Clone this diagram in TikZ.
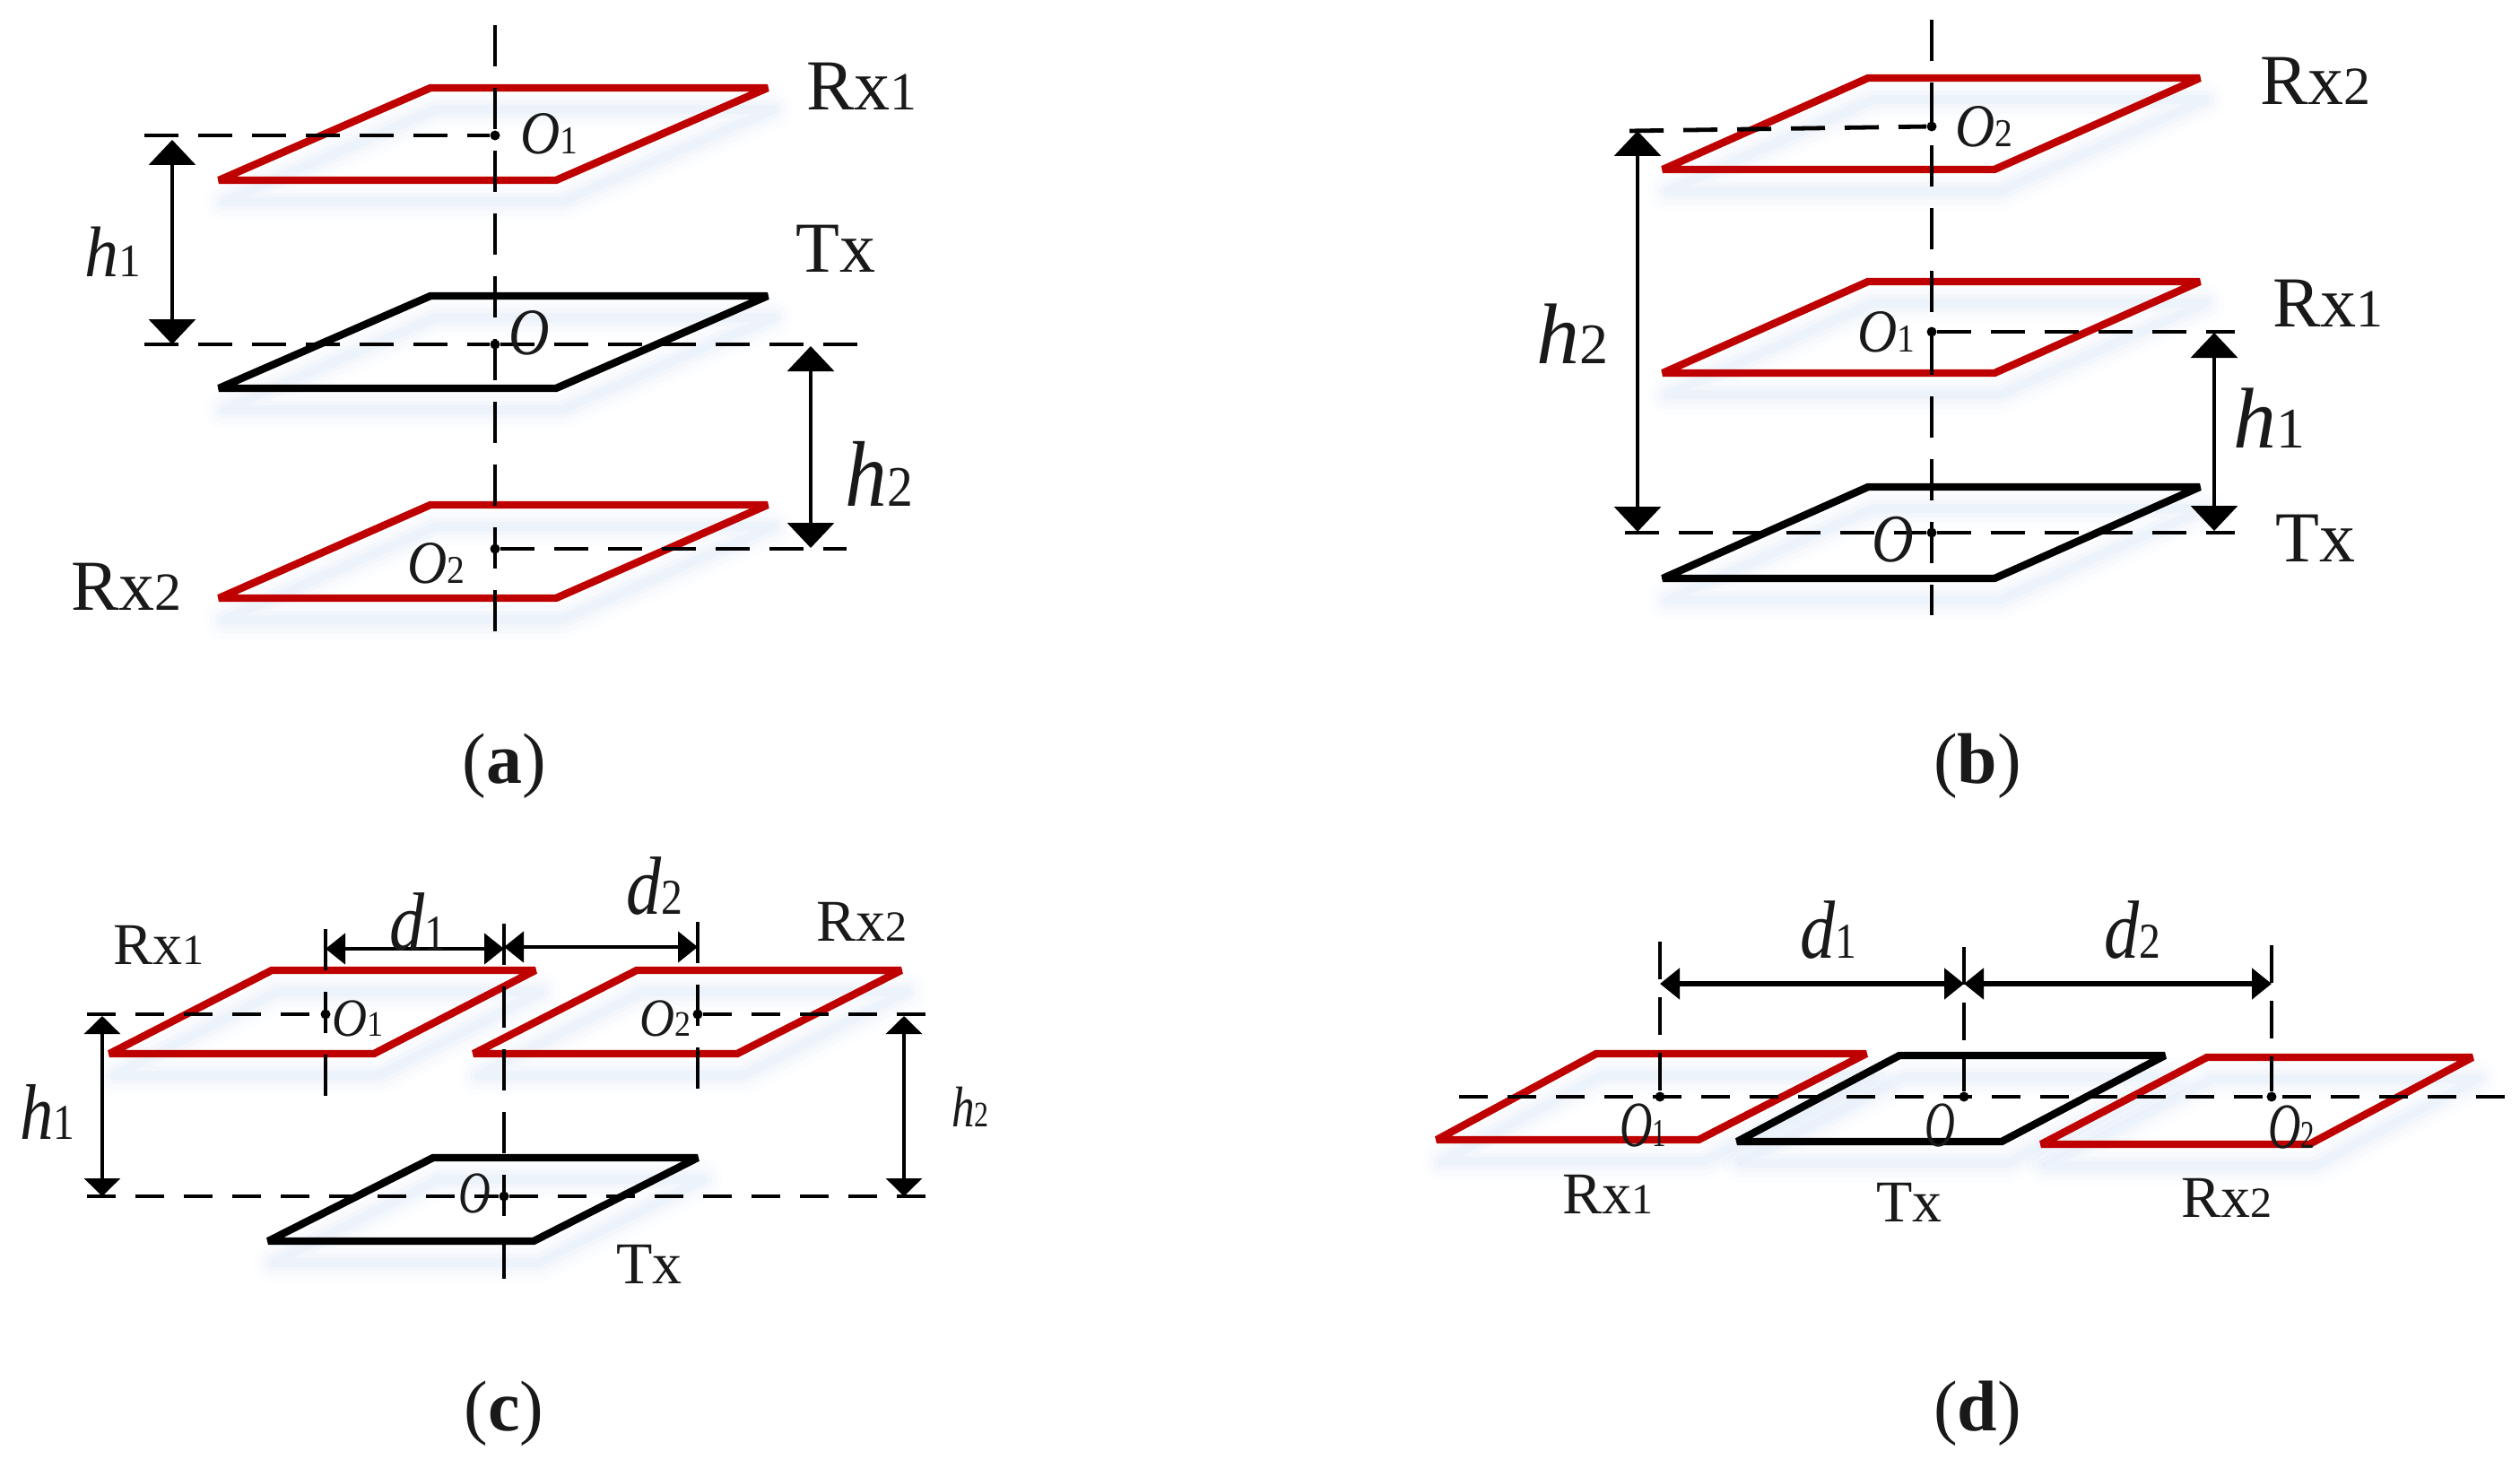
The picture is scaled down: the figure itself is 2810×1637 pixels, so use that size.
\documentclass[tikz,border=0pt]{standalone}
\usepackage{fontspec}
\setmainfont{Liberation Serif}
\usetikzlibrary{arrows.meta}
\definecolor{rxred}{RGB}{190,0,0}
\definecolor{shadowblue}{RGB}{150,185,230}
\newcommand{\rxl}[3]{{\fontsize{#1}{#1}\selectfont Rx\fontsize{#2}{#2}\selectfont #3}}
\newcommand{\ilab}[5]{\scalebox{#3}[1]{\fontsize{#1}{#1}\selectfont\textit{#4}\fontsize{#2}{#2}\selectfont #5}}
\newcommand{\capl}[1]{{\fontsize{40}{40}\selectfont (\textbf{#1})}}
% plate: x of top-left, top-right, bottom-right, bottom-left, y top, y bottom, colour
\newcommand{\plate}[7]{%
  \foreach \w/\op in {44/.03,32/.04,20/.05,10/.06}{%
    \draw[shift={(6,24)},line width=\w*0.5pt,shadowblue,opacity=\op,line join=round]
      (#1,#5) -- (#2,#5) -- (#3,#6) -- (#4,#6) -- cycle;}%
  \draw[line width=4.2pt,#7,line join=miter,miter limit=3] (#1,#5) -- (#2,#5) -- (#3,#6) -- (#4,#6) -- cycle;}
\tikzset{
  txt/.style={inner sep=0pt,outer sep=0pt,anchor=center,text=black!90},
  hdash/.style={line width=2.4pt,dash pattern=on 19pt off 11pt},
  hdashb/.style={line width=2.4pt,dash pattern=on 16pt off 11pt},
  vdash/.style={line width=1.9pt,dash pattern=on 23pt off 12pt},
  vdashb/.style={line width=1.9pt,dash pattern=on 21pt off 10pt},
  dim/.style={line width=1.8pt,{Triangle[length=14pt,width=26pt]}-{Triangle[length=14pt,width=26pt]}},
  dimc/.style={line width=1.6pt,{Triangle[length=10pt,width=20pt]}-{Triangle[length=10pt,width=20pt]}},
  dimh/.style={line width=2.2pt,{Triangle[length=11pt,width=17pt]}-{Triangle[length=11pt,width=17pt]}},
  dotn/.style={circle,fill=black,inner sep=0pt,minimum size=5.5pt},
}
\begin{document}
\begin{tikzpicture}[x=0.5pt,y=-0.5pt]
\useasboundingbox (0,0) rectangle (2810,1637);
% ---------- panel (a)
\begin{scope}[shift={(-4,-2)}]
\plate{484}{860}{624}{248}{100}{203}{rxred}
\plate{484}{860}{624}{248}{332}{435}{black}
\plate{484}{860}{624}{248}{565}{669}{rxred}
\coordinate (aT) at (556,30); \coordinate (aB) at (556,711);
\node[dotn] (aO1) at (556,153) {}; \node[dotn] (aO) at (556,386) {}; \node[dotn] (aO2) at (556,614) {};
\coordinate (aL1) at (165,153); \coordinate (aL) at (165,386); \coordinate (aR) at (970,386); \coordinate (aR2) at (948,614);
\coordinate (ah1t) at (196,158); \coordinate (ah1b) at (196,386);
\coordinate (ah2t) at (908,388); \coordinate (ah2b) at (908,613);
\draw[vdash] (aT) -- (aB);
\draw[hdash] (aL1) -- (aO1);
\draw[hdash] (aL) -- (aO);
\draw[hdash] (aO) -- (aR);
\draw[hdash] (aO2) -- (aR2);
\draw[dim] (ah1t) -- (ah1b);
\draw[dim] (ah2t) -- (ah2b);
\node[txt] (aRx1) at (965,98) {\rxl{40}{30}{1}};
\node[txt] (aTx) at (936,279) {\fontsize{40}{40}\selectfont Tx};
\node[txt] (aRx2) at (145,656) {\rxl{40}{30}{2}};
\node[txt] (ah1) at (130,283) {\ilab{40}{26}{.95}{h}{1}};
\node[txt] (ah2) at (984,530) {\ilab{52}{32}{.9}{h}{2}};
\node[txt] (alO1) at (616,151) {\ilab{34}{22}{.9}{O}{1}};
\node[txt] (alO) at (594,373) {\ilab{37}{20}{.85}{O}{}};
\node[txt] (alO2) at (490,630) {\ilab{34}{22}{.9}{O}{2}};
\end{scope}
\node[txt] (acapa) at (562,854) {\capl{a}};
% ---------- panel (b)
\begin{scope}[shift={(-4,0)}]
\plate{2087}{2457}{2228}{1858}{87}{189}{rxred}
\plate{2087}{2457}{2228}{1858}{314}{416}{rxred}
\plate{2087}{2457}{2228}{1858}{543}{645}{black}
\coordinate (bT) at (2158,22); \coordinate (bB) at (2158,686);
\node[dotn] (bO2) at (2158,141) {}; \node[dotn] (bO1) at (2158,370) {}; \node[dotn] (bO) at (2158,594) {};
\coordinate (bL2) at (1821,146); \coordinate (bR1) at (2496,370); \coordinate (bL) at (1816,594); \coordinate (bR) at (2496,594);
\coordinate (bh2t) at (1830,146); \coordinate (bh2b) at (1830,593);
\coordinate (bh1t) at (2473,371); \coordinate (bh1b) at (2473,592);
\draw[vdash] (bT) -- (bB);
\draw[hdash] (bL2) -- (bO2);
\draw[hdash] (bO1) -- (bR1);
\draw[hdash] (bL) -- (bO);
\draw[hdash] (bO) -- (bR);
\draw[dim] (bh2t) -- (bh2b);
\draw[dim] (bh1t) -- (bh1b);
\node[txt] (bRx2) at (2586,90) {\rxl{40}{30}{2}};
\node[txt] (bRx1) at (2600,338) {\rxl{40}{30}{1}};
\node[txt] (bTx) at (2586,600) {\fontsize{40}{40}\selectfont Tx};
\node[txt] (bh2) at (1757,372) {\ilab{48}{32}{1}{h}{2}};
\node[txt] (bh1) at (2534,466) {\ilab{48}{32}{1}{h}{1}};
\node[txt] (blO2) at (2216,141) {\ilab{34}{22}{.9}{O}{2}};
\node[txt] (blO1) at (2107,370) {\ilab{34}{22}{.9}{O}{1}};
\node[txt] (blO) at (2115,602) {\ilab{38}{20}{.85}{O}{}};
\end{scope}
\node[txt] (bcapb) at (2205,854) {\capl{b}};
% ---------- panel (c)
\begin{scope}[shift={(-3,-4)}]
\plate{306}{600}{420}{125}{1086}{1179}{rxred}
\plate{713}{1008}{825}{531}{1086}{1179}{rxred}
\plate{486}{781}{598}{302}{1295}{1388}{black}
\coordinate (cT) at (565,1034); \coordinate (cB) at (565,1444);
\coordinate (cT1) at (366,1040); \coordinate (cB1) at (366,1244);
\coordinate (cT2) at (781,1032); \coordinate (cB2) at (781,1226);
\node[dotn] (cO1) at (366,1135) {}; \node[dotn] (cO2) at (781,1135) {}; \node[dotn] (cO) at (565,1338) {};
\coordinate (cL1) at (100,1135); \coordinate (cR2) at (1037,1135); \coordinate (cL) at (100,1338); \coordinate (cR) at (1037,1338);
\coordinate (ch1t) at (117,1137); \coordinate (ch1b) at (117,1338);
\coordinate (ch2t) at (1011,1137); \coordinate (ch2b) at (1011,1338);
\coordinate (cd1l) at (366,1062); \coordinate (cd1r) at (565,1062);
\coordinate (cd2l) at (565,1060); \coordinate (cd2r) at (781,1060);
\draw[vdash] (cT) -- (cB);
\draw[vdash] (cT1) -- (cB1);
\draw[vdash] (cT2) -- (cB2);
\draw[hdashb] (cL1) -- (cO1);
\draw[hdashb] (cO2) -- (cR2);
\draw[hdashb] (cL) -- (cO);
\draw[hdashb] (cO) -- (cR);
\draw[dimc] (ch1t) -- (ch1b);
\draw[dimc] (ch2t) -- (ch2b);
\draw[dimh] (cd1l) -- (cd1r);
\draw[dimh] (cd2l) -- (cd2r);
\node[txt] (cRx1) at (180,1058) {\rxl{33}{24}{1}};
\node[txt] (cRx2) at (964,1032) {\rxl{33}{24}{2}};
\node[txt] (cTx) at (727,1414) {\fontsize{33}{33}\selectfont Tx};
\node[txt] (ch1) at (56,1244) {\ilab{44}{28}{.85}{h}{1}};
\node[txt] (ch2) at (1085,1238) {\ilab{32}{20}{.8}{h}{2}};
\node[txt] (cdl1) at (469,1032) {\ilab{46}{28}{.85}{d}{1}};
\node[txt] (cdl2) at (733,992) {\ilab{46}{28}{.85}{d}{2}};
\node[txt] (clO1) at (402,1140) {\ilab{30}{20}{.9}{O}{1}};
\node[txt] (clO2) at (745,1140) {\ilab{30}{20}{.9}{O}{2}};
\node[txt] (clO) at (532,1335) {\ilab{33}{18}{.75}{O}{}};
\end{scope}
\node[txt] (ccapc) at (562,1576) {\capl{c}};
% ---------- panel (d)
\begin{scope}[shift={(-6,-4)}]
\plate{1786}{2087}{1900}{1608}{1179}{1275}{rxred}
\plate{2124}{2420}{2238}{1943}{1181}{1277}{black}
\plate{2467}{2763}{2581}{2282}{1183}{1280}{rxred}
\node[dotn] (dO1) at (1857,1227) {}; \node[dotn] (dO) at (2196,1227) {}; \node[dotn] (dO2) at (2539,1227) {};
\coordinate (dT1) at (1857,1054); \coordinate (dT) at (2196,1060); \coordinate (dT2) at (2539,1058);
\coordinate (dL) at (1633,1227); \coordinate (dR) at (2802,1227);
\coordinate (dd1l) at (1857,1101); \coordinate (dd1r) at (2196,1101);
\coordinate (dd2l) at (2196,1101); \coordinate (dd2r) at (2539,1101);
\draw[vdashb] (dT1) -- (dO1);
\draw[vdashb] (dT) -- (dO);
\draw[vdashb] (dT2) -- (dO2);
\draw[hdashb] (dL) -- (dR);
\draw[dimh,line width=2.6pt] (dd1l) -- (dd1r);
\draw[dimh,line width=2.6pt] (dd2l) -- (dd2r);
\node[txt] (ddl1) at (2045,1041) {\ilab{46}{28}{.85}{d}{1}};
\node[txt] (ddl2) at (2384,1041) {\ilab{46}{28}{.85}{d}{2}};
\node[txt] (dRx1) at (1799,1336) {\rxl{33}{24}{1}};
\node[txt] (dTx) at (2135,1345) {\fontsize{33}{33}\selectfont Tx};
\node[txt] (dRx2) at (2489,1340) {\rxl{33}{24}{2}};
\node[txt] (dlO1) at (1838,1259) {\ilab{36}{22}{.7}{O}{1}};
\node[txt] (dlO) at (2169,1259) {\ilab{36}{20}{.65}{O}{}};
\node[txt] (dlO2) at (2561,1261) {\ilab{36}{22}{.7}{O}{2}};
\end{scope}
\node[txt] (dcapd) at (2205,1576) {\capl{d}};
\end{tikzpicture}
\end{document}
